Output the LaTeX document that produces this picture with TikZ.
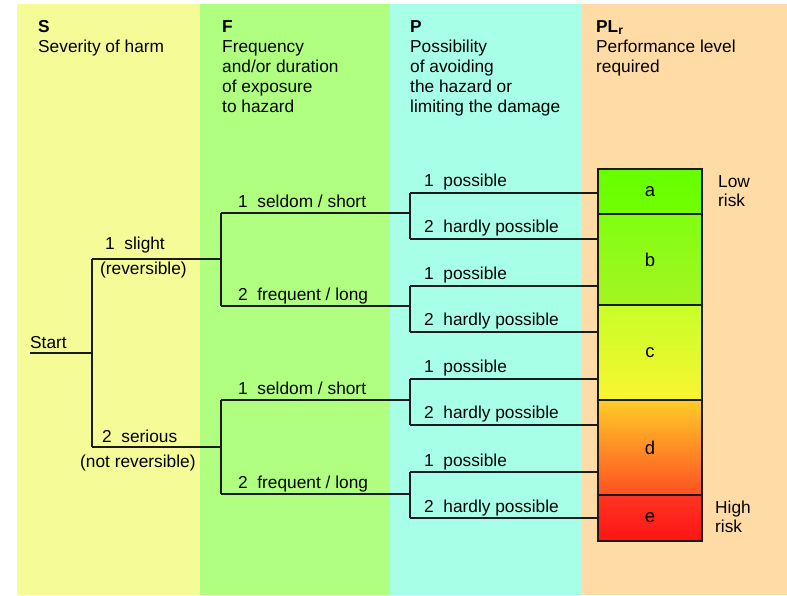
\documentclass[tikz,border=0pt]{standalone}
\usepackage{fontspec}
\usepackage{pdfrender}
\setmainfont{Liberation Sans}
\newcommand\medfont{\pdfrender{TextRenderingMode=FillStroke,LineWidth=0.35pt}}
\definecolor{colS}{HTML}{F5FB97}
\definecolor{colF}{HTML}{B0FF80}
\definecolor{colP}{HTML}{A7FFE8}
\definecolor{colPL}{HTML}{FFDCA6}
\definecolor{lncol}{HTML}{1A1A1A}
\begin{document}
\begin{tikzpicture}[x=1pt,y=-1pt,
  ln/.style={line width=1.4pt, draw=lncol},
  lbl/.style={anchor=base west, inner sep=0pt, font=\medfont\fontsize{17.3}{20}\selectfont},
  hdr/.style={anchor=base west, inner sep=0pt, font=\bfseries\fontsize{17.3}{20}\selectfont},
  plainlbl/.style={anchor=base west, inner sep=0pt, font=\fontsize{17.3}{20}\selectfont},
  seg/.style={draw=lncol, line width=1.5pt, minimum width=104pt, inner sep=0pt, font=\medfont\fontsize{18.5}{20}\selectfont}]
\useasboundingbox (0,0) rectangle (787,595);
\fill[white] (0,0) rectangle (787,595);
\fill[colS] (17,4) rectangle (200,595);
\fill[colF] (200,4) rectangle (390,595);
\fill[colP] (390,4) rectangle (582,595);
\fill[colPL] (582,4) rectangle (787,595);

% headers
\node[hdr] (hS) at (38,32) {S};
\node[lbl] (hS1) at (38,52) {Severity of harm};
\node[hdr] (hF) at (222,32) {F};
\node[lbl] (hF1) at (222,52) {Frequency};
\node[lbl] (hF2) at (222,72) {and/or duration};
\node[lbl] (hF3) at (222,92) {of exposure};
\node[lbl] (hF4) at (222,112) {to hazard};
\node[hdr] (hP) at (410,32) {P};
\node[lbl] (hP1) at (410,52) {Possibility};
\node[lbl] (hP2) at (410,72) {of avoiding};
\node[lbl] (hP3) at (410,92) {the hazard or};
\node[lbl] (hP4) at (410,112) {limiting the damage};
\node[hdr] (hPL) at (596,32) {PL\textsubscript{r}};
\node[lbl] (hPL1) at (596,52) {Performance level};
\node[lbl] (hPL2) at (596,72) {required};

% PL box
\node[seg, top color={rgb,255:red,102;green,255;blue,0}, bottom color={rgb,255:red,114;green,255;blue,0}, minimum height=45pt] (a) at (650,191.5) {a};
\node[seg, top color={rgb,255:red,128;green,255;blue,16}, bottom color={rgb,255:red,165;green,245;blue,34}, minimum height=91pt] (b) at (650,259.5) {b};
\node[seg, top color={rgb,255:red,200;green,255;blue,40}, bottom color={rgb,255:red,250;green,245;blue,48}, minimum height=95pt] (c) at (650,352.5) {c};
\node[seg, top color={rgb,255:red,255;green,204;blue,40}, bottom color={rgb,255:red,255;green,80;blue,34}, minimum height=95pt] (d) at (650,447.5) {d};
\node[seg, top color={rgb,255:red,255;green,52;blue,34}, bottom color={rgb,255:red,255;green,20;blue,20}, minimum height=46pt] (e) at (650,518) {e};

\node[plainlbl] (low1) at (718,187) {Low};
\node[plainlbl] (low2) at (718,206) {risk};
\node[plainlbl] (high1) at (715,513) {High};
\node[plainlbl] (high2) at (715,532) {risk};

% tree coordinates
\coordinate (st) at (30,353);
\coordinate (sj) at (92,353);
\coordinate (s1) at (92,259);
\coordinate (s2) at (92,447);
\coordinate (f1) at (221,259);
\coordinate (f2) at (221,447);
\coordinate (f11) at (221,213);
\coordinate (f12) at (221,306);
\coordinate (f21) at (221,400);
\coordinate (f22) at (221,494);
\coordinate (p11) at (410,213);
\coordinate (p12) at (410,306);
\coordinate (p21) at (410,400);
\coordinate (p22) at (410,494);
\coordinate (q1a) at (410,193);
\coordinate (q1b) at (410,239);
\coordinate (q2a) at (410,286);
\coordinate (q2b) at (410,332);
\coordinate (q3a) at (410,379);
\coordinate (q3b) at (410,425);
\coordinate (q4a) at (410,472);
\coordinate (q4b) at (410,518);

\draw[ln] (st) -- (sj);
\draw[ln] (s1) -- (s2);
\draw[ln] (s1) -- (f1);
\draw[ln] (s2) -- (f2);
\draw[ln] (f11) -- (f12);
\draw[ln] (f21) -- (f22);
\draw[ln] (f11) -- (p11);
\draw[ln] (f12) -- (p12);
\draw[ln] (f21) -- (p21);
\draw[ln] (f22) -- (p22);
\draw[ln] (q1a) -- (q1b);
\draw[ln] (q2a) -- (q2b);
\draw[ln] (q3a) -- (q3b);
\draw[ln] (q4a) -- (q4b);
\draw[ln] (q1a) -- (q1a -| a.west);
\draw[ln] (q1b) -- (q1b -| b.west);
\draw[ln] (q2a) -- (q2a -| b.west);
\draw[ln] (q2b) -- (q2b -| c.west);
\draw[ln] (q3a) -- (q3a -| c.west);
\draw[ln] (q3b) -- (q3b -| d.west);
\draw[ln] (q4a) -- (q4a -| d.west);
\draw[ln] (q4b) -- (q4b -| e.west);

% labels
\node[lbl] (lstart) at (30,348) {Start};
\node[lbl] (ls1) at (105,249) {1\ \ slight};
\node[lbl] (ls1b) at (100,274) {(reversible)};
\node[lbl] (ls2) at (102,442) {2\ \ serious};
\node[lbl] (ls2b) at (80,467) {(not reversible)};
\node[lbl] (lf11) at (238,207) {1\ \ seldom / short};
\node[lbl] (lf12) at (238,300) {2\ \ frequent / long};
\node[lbl] (lf21) at (238,394) {1\ \ seldom / short};
\node[lbl] (lf22) at (238,488) {2\ \ frequent / long};
\node[lbl] (lp1a) at (424,186) {1\ \ possible};
\node[lbl] (lp1b) at (424,232) {2\ \ hardly possible};
\node[lbl] (lp2a) at (424,279) {1\ \ possible};
\node[lbl] (lp2b) at (424,325) {2\ \ hardly possible};
\node[lbl] (lp3a) at (424,372) {1\ \ possible};
\node[lbl] (lp3b) at (424,418) {2\ \ hardly possible};
\node[lbl] (lp4a) at (424,466) {1\ \ possible};
\node[lbl] (lp4b) at (424,512) {2\ \ hardly possible};
\end{tikzpicture}
\end{document}
